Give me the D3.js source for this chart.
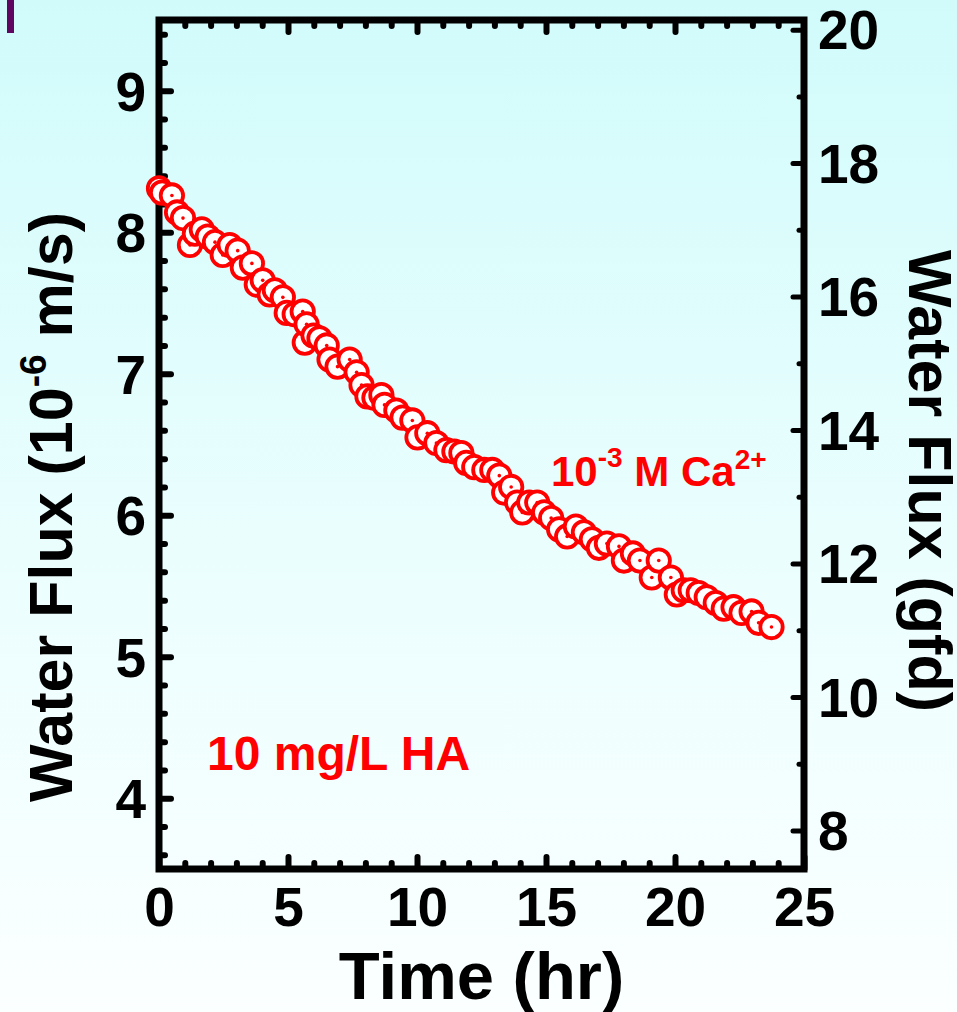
<!DOCTYPE html>
<html>
<head>
<meta charset="utf-8">
<script src="https://cdn.jsdelivr.net/npm/d3@7"></script>
<style>
  html, body { margin: 0; padding: 0; background: #ffffff; }
  svg { display: block; font-family: "Liberation Sans", Arial, Helvetica, sans-serif; font-weight: bold; }
</style>
</head>
<body>
<svg id="chart" width="957" height="1012"></svg>
<script>
// Filtration time (hr)
const timeHr = [
  0.00, 0.12, 0.50, 0.70, 0.93, 1.20, 1.39, 1.66, 1.89, 2.17,
  2.47, 2.74, 3.05, 3.25, 3.60, 3.79, 4.02, 4.29, 4.49, 4.80,
  4.95, 5.26, 5.57, 5.65, 5.72, 5.99, 6.22, 6.50, 6.61, 6.92,
  7.39, 7.66, 7.85, 8.08, 8.35, 8.62, 8.74, 9.20, 9.44, 9.82,
  10.02, 10.40, 10.75, 11.14, 11.45, 11.72, 11.91, 12.22, 12.61, 12.92,
  13.19, 13.38, 13.65, 13.88, 14.08, 14.35, 14.66, 14.93, 15.20, 15.51,
  15.82, 16.16, 16.47, 16.78, 17.05, 17.36, 17.83, 18.02, 18.37, 18.64,
  19.10, 19.37, 19.84, 20.07, 20.34, 20.61, 20.92, 21.23, 21.58, 21.89,
  22.27, 22.58, 22.97, 23.24, 23.74
];
// Water flux (10^-6 m/s)
const fluxMs = [
  8.31, 8.28, 8.26, 8.14, 8.10, 7.91, 7.99, 8.02, 7.97, 7.93,
  7.84, 7.91, 7.87, 7.75, 7.78, 7.63, 7.66, 7.56, 7.59, 7.54,
  7.43, 7.42, 7.44, 7.22, 7.35, 7.27, 7.25, 7.20, 7.10, 7.05,
  7.10, 7.01, 6.92, 6.84, 6.83, 6.85, 6.78, 6.74, 6.69, 6.67,
  6.55, 6.58, 6.51, 6.46, 6.45, 6.44, 6.37, 6.34, 6.32, 6.32,
  6.28, 6.16, 6.20, 6.09, 6.02, 6.09, 6.09, 6.02, 5.98, 5.90,
  5.85, 5.92, 5.88, 5.83, 5.77, 5.80, 5.78, 5.68, 5.73, 5.68,
  5.56, 5.68, 5.56, 5.44, 5.47, 5.47, 5.45, 5.42, 5.38, 5.34,
  5.35, 5.31, 5.32, 5.24, 5.21
];

// Axis ticks
const xMajor = [0, 5, 10, 15, 20, 25];
const xMinor = [1, 2, 3, 4, 6, 7, 8, 9, 11, 12, 13, 14, 16, 17, 18, 19, 21, 22, 23, 24];
const yLeftMajor = [4, 5, 6, 7, 8, 9];
const yLeftMinor = [3.6, 3.8, 4.2, 4.4, 4.6, 4.8, 5.2, 5.4, 5.6, 5.8, 6.2, 6.4, 6.6, 6.8,
                    7.2, 7.4, 7.6, 7.8, 8.2, 8.4, 8.6, 8.8, 9.2, 9.4];
const yRightMajor = [8, 10, 12, 14, 16, 18, 20];
const yRightMinor = [9, 11, 13, 15, 17, 19];

// 1e-6 m/s expressed in gal/ft²/day
const GFD_PER_UMS = 2.1205;

const svg = d3.select("#chart");
const W = 957, H = 1012;
const plotL = 159, plotR = 804, plotT = 20, plotB = 869;

// Background wash
const defs = svg.append("defs");
const grad = defs.append("linearGradient")
  .attr("id", "bg").attr("x1", 0).attr("y1", 0).attr("x2", 0).attr("y2", 1);
grad.append("stop").attr("offset", "0%").attr("stop-color", "#d1fbfb");
grad.append("stop").attr("offset", "55%").attr("stop-color", "#ebfefe");
grad.append("stop").attr("offset", "100%").attr("stop-color", "#fbffff");
svg.append("rect").attr("width", W).attr("height", H).attr("fill", "url(#bg)");

// Small slide marker in the corner
svg.append("rect").attr("x", 7).attr("y", 0).attr("width", 7).attr("height", 33).attr("fill", "#5e0660");

const x = d3.scaleLinear().domain([0, 25]).range([plotL, plotR]);
const yL = d3.scaleLinear().domain([3.5, 9.5]).range([plotB, plotT]);
const yR = d3.scaleLinear().domain([3.5 * GFD_PER_UMS, 9.5 * GFD_PER_UMS]).range([plotB, plotT]);

function styleAxis(g, width) {
  g.select(".domain").remove();
  g.selectAll(".tick line")
    .attr("stroke", "#000").attr("stroke-width", width).attr("stroke-linecap", "round");
  g.selectAll(".tick text")
    .attr("fill", "#000").attr("font-size", 55).attr("font-weight", "bold")
    .attr("font-family", "Liberation Sans, Arial, sans-serif");
}

// Left axis (10^-6 m/s)
svg.append("g").attr("transform", `translate(${plotL},0)`)
  .call(d3.axisLeft(yL).tickValues(yLeftMinor).tickSize(-6).tickFormat(""))
  .call(g => styleAxis(g, 6));
svg.append("g").attr("transform", `translate(${plotL},0)`)
  .call(d3.axisLeft(yL).tickValues(yLeftMajor).tickSize(-12).tickPadding(13).tickFormat(d3.format("d")))
  .call(g => styleAxis(g, 6))
  .call(g => g.selectAll(".tick text").attr("dy", "0.35em"));

// Right axis (gfd)
svg.append("g").attr("transform", `translate(${plotR},0)`)
  .call(d3.axisRight(yR).tickValues(yRightMinor).tickSize(-5).tickFormat(""))
  .call(g => styleAxis(g, 5));
svg.append("g").attr("transform", `translate(${plotR},0)`)
  .call(d3.axisRight(yR).tickValues(yRightMajor).tickSize(-11).tickPadding(14).tickFormat(d3.format("d")))
  .call(g => styleAxis(g, 5))
  .call(g => g.selectAll(".tick text").attr("dy", "0.35em"));

// Bottom axis (time)
svg.append("g").attr("transform", `translate(0,${plotB})`)
  .call(d3.axisBottom(x).tickValues(xMinor).tickSize(-6).tickFormat(""))
  .call(g => styleAxis(g, 6));
svg.append("g").attr("transform", `translate(0,${plotB})`)
  .call(d3.axisBottom(x).tickValues(xMajor).tickSize(-12).tickPadding(18).tickFormat(d3.format("d")))
  .call(g => styleAxis(g, 6));

// Top axis mirrors the time ticks
svg.append("g").attr("transform", `translate(0,${plotT})`)
  .call(d3.axisTop(x).tickValues(xMinor).tickSize(-6).tickFormat(""))
  .call(g => styleAxis(g, 6));
svg.append("g").attr("transform", `translate(0,${plotT})`)
  .call(d3.axisTop(x).tickValues(xMajor.slice(1, -1)).tickSize(-12).tickFormat(""))
  .call(g => styleAxis(g, 6));

// Plot frame
svg.append("rect")
  .attr("x", plotL).attr("y", plotT).attr("width", plotR - plotL).attr("height", plotB - plotT)
  .attr("fill", "none").attr("stroke", "#000").attr("stroke-width", 7).attr("stroke-linejoin", "miter");

// Data points: open circles with a centre dot
const pts = svg.append("g");
const pointData = timeHr.map((t, i) => ({ t, v: fluxMs[i] }));
const pg = pts.selectAll("g").data(pointData).join("g")
  .attr("transform", d => `translate(${x(d.t)},${yL(d.v)})`);
pg.append("circle").attr("r", 11.2).attr("fill", "#ffffff").attr("stroke", "#ff0000").attr("stroke-width", 3.8);
pg.append("circle").attr("r", 1.8).attr("fill", "#ff0000");

// Axis titles
svg.append("text")
  .attr("x", (plotL + plotR) / 2).attr("y", 999)
  .attr("text-anchor", "middle").attr("font-size", 67).attr("fill", "#000")
  .text("Time (hr)");

const lt = svg.append("text")
  .attr("transform", "translate(72,507) rotate(-90)")
  .attr("text-anchor", "middle").attr("font-size", 61).attr("fill", "#000");
lt.append("tspan").text("Water Flux (10");
lt.append("tspan").attr("font-size", 37).attr("dy", -26).text("-6");
lt.append("tspan").attr("dy", 26).text(" m/s)");

svg.append("text")
  .attr("transform", "translate(909,481) rotate(90)")
  .attr("text-anchor", "middle").attr("font-size", 61).attr("fill", "#000")
  .text("Water Flux (gfd)");

// Condition labels
svg.append("text")
  .attr("x", 207).attr("y", 770).attr("font-size", 48).attr("fill", "#ff0000")
  .text("10 mg/L HA");

const ca = svg.append("text")
  .attr("x", 551).attr("y", 486).attr("font-size", 42).attr("fill", "#ff0000");
ca.append("tspan").text("10");
ca.append("tspan").attr("font-size", 28).attr("dy", -19).text("-3");
ca.append("tspan").attr("dy", 19).text(" M Ca");
ca.append("tspan").attr("font-size", 28).attr("dy", -17).text("2+");
</script>
</body>
</html>
